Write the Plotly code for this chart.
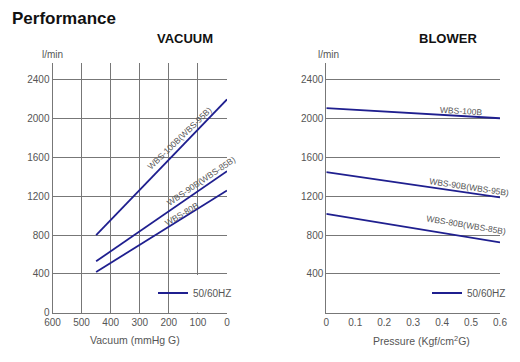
import plotly.graph_objects as go

# ---- data ----
vac_x = [450, 0]
vac_100 = [800, 2200]
vac_90 = [530, 1460]
vac_80 = [420, 1260]

blo_x = [0, 0.6]
blo_100 = [2110, 2005]
blo_90 = [1450, 1190]
blo_80 = [1020, 725]

vac_ticks = [600, 500, 400, 300, 200, 100, 0]
blo_ticks = [0, 0.1, 0.2, 0.3, 0.4, 0.5, 0.6]
blo_grid = [0.1, 0.2, 0.3, 0.4, 0.5]
flow_ticks_left = [0, 400, 800, 1200, 1600, 2000, 2400]
flow_ticks_right = [400, 800, 1200, 1600, 2000, 2400]

LINE = "#1f1f8f"
GRID = "#777777"
TXT = "#555555"
FONT = "Liberation Sans"

# page has an 8px body margin: figure sized to fit the window
OFF = 8
W, H = 520 - OFF, 362 - OFF
def px(x):
    return (x - OFF) / W
def py(y):
    return 1 - (y - OFF) / H

fig = go.Figure()

def add(x, y, xa, ya, show, leg):
    fig.add_trace(go.Scatter(x=x, y=y, mode="lines", xaxis=xa, yaxis=ya,
                             line=dict(color=LINE, width=1.8), name="50/60HZ",
                             showlegend=show, legend=leg, hoverinfo="skip"))

add(vac_x, vac_100, "x", "y", True, "legend")
add(vac_x, vac_90, "x", "y", False, "legend")
add(vac_x, vac_80, "x", "y", False, "legend")
add(blo_x, blo_100, "x2", "y2", True, "legend2")
add(blo_x, blo_90, "x2", "y2", False, "legend2")
add(blo_x, blo_80, "x2", "y2", False, "legend2")

ydom = [py(312.7), py(63)]
axfont = dict(family=FONT, size=10, color=TXT)
common = dict(showline=True, linecolor=GRID, linewidth=1, gridcolor=GRID,
              gridwidth=1, ticks="", tickfont=axfont, fixedrange=True,
              automargin=False)

fig.update_layout(
    width=W, height=H,
    margin=dict(l=0, r=0, t=0, b=0, autoexpand=False),
    paper_bgcolor="white", plot_bgcolor="white",
    font=dict(family=FONT, color=TXT),
    xaxis=dict(domain=[px(52.5), px(227)], range=[600, 0], tickvals=vac_ticks,
               showgrid=True, zeroline=True, zerolinecolor="rgba(0,0,0,0)",
               anchor="y", **common),
    yaxis=dict(domain=ydom, range=[0, 2575], tickvals=flow_ticks_left,
               showgrid=True, zeroline=False, anchor="x", **common),
    xaxis2=dict(domain=[px(326.3), px(500)], range=[0, 0.6], tickvals=blo_ticks,
                ticktext=[str(v) for v in blo_ticks],
                showgrid=False, zeroline=False, anchor="y2", **common),
    xaxis3=dict(overlaying="x2", range=[0, 0.6], tickvals=blo_grid,
                showgrid=True, showticklabels=False, zeroline=False,
                showline=False, gridcolor=GRID, anchor="y2", fixedrange=True,
                automargin=False),
    yaxis2=dict(domain=ydom, range=[0, 2575], tickvals=flow_ticks_right,
                showgrid=True, zeroline=False, anchor="x2", **common),
    legend=dict(x=px(153), xanchor="left", y=py(293), yanchor="middle",
                bgcolor="rgba(0,0,0,0)", font=dict(family=FONT, size=10, color=TXT)),
    legend2=dict(x=px(427), xanchor="left", y=py(293), yanchor="middle",
                 bgcolor="rgba(0,0,0,0)", font=dict(family=FONT, size=10, color=TXT)),
)

# blank areas behind the legends (hide grid there)
fig.add_shape(type="rect", xref="x", yref="y", x0=190, x1=0, y0=0, y1=390,
              fillcolor="white", line=dict(width=0), layer="between")
fig.add_shape(type="rect", xref="x2", yref="y2", x0=0.41, x1=0.6, y0=0, y1=390,
              fillcolor="white", line=dict(width=0), layer="between")

def ann(text, x, y, xref="paper", yref="paper", size=10, angle=0, bold=False,
        color=TXT, xanchor="center", pad=1):
    fig.add_annotation(text=f"<b>{text}</b>" if bold else text, x=x, y=y,
                       xref=xref, yref=yref, showarrow=False, textangle=angle,
                       xanchor=xanchor, yanchor="middle", borderpad=pad,
                       font=dict(family=FONT, size=size, color=color))

ann("Performance", px(11), py(19), size=17, bold=True, color="#111111",
    xanchor="left", pad=0)
ann("VACUUM", px(184.5), py(38), size=13, bold=True, color="#111111")
ann("BLOWER", px(448), py(38), size=13, bold=True, color="#111111")
ann("l/min", px(52), py(55), size=10)
ann("l/min", px(328), py(55), size=10)
ann("Vacuum (mmHg G)", px(135), py(340), size=10.5)
ann("Pressure (Kgf/cm<sup>2</sup>G)", px(421), py(340), size=10.5)

# curve labels
ann("WBS-100B(WBS-95B)", 162, 1801, "x", "y", size=8.5, angle=-44)
ann("WBS-90B(WBS-85B)", 89, 1358, "x", "y", size=8.5, angle=-34)
ann("WBS-80B", 155, 1018, "x", "y", size=8.5, angle=-31)
ann("WBS-100B", 0.465, 2080, "x2", "y2", size=8.5, angle=3.5)
ann("WBS-90B(WBS-95B)", 0.493, 1297, "x2", "y2", size=8.5, angle=8.5)
ann("WBS-80B(WBS-85B)", 0.483, 904, "x2", "y2", size=8.5, angle=9.5)

fig.write_html("out.html")
